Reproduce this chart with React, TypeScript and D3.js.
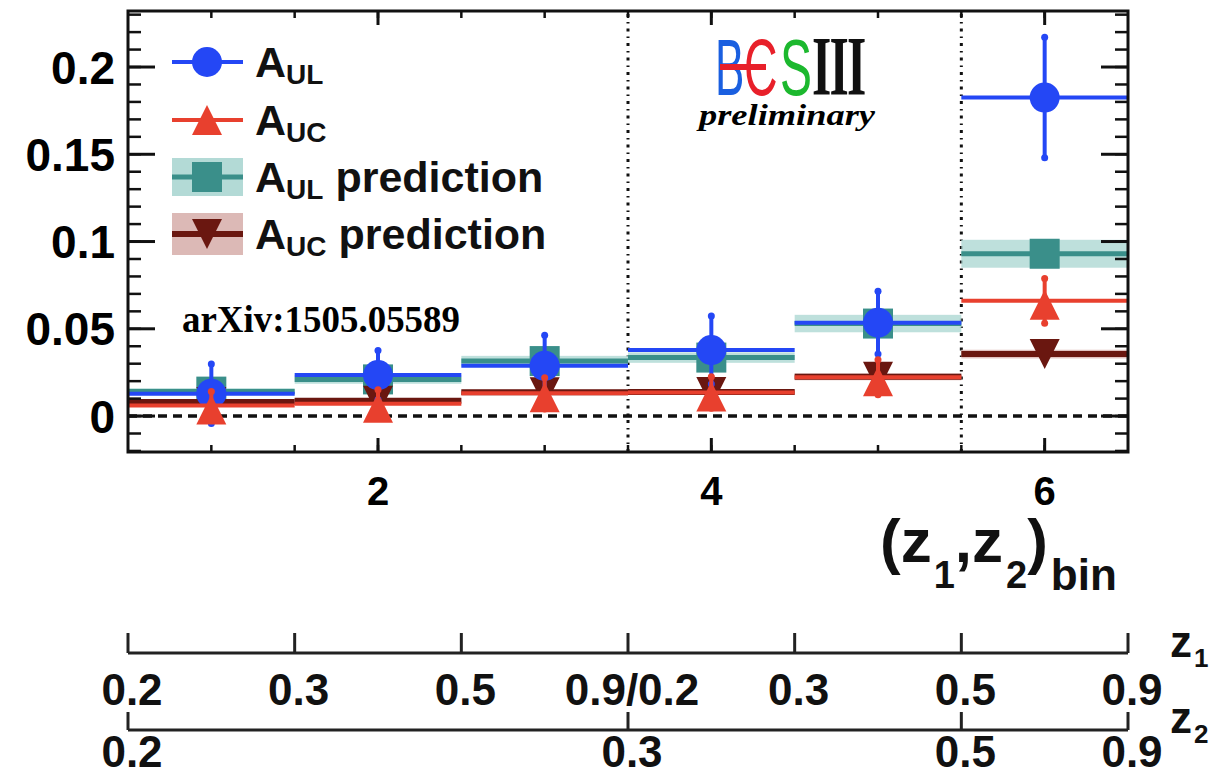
import React, { useEffect, useRef } from 'react'
import * as d3 from 'd3'

// bin centres and measured / predicted asymmetries
const bins = [1, 2, 3, 4, 5, 6]
const aUL = [0.0128, 0.0235, 0.0288, 0.0378, 0.0535, 0.1825]
const aULErr = [0.017, 0.014, 0.0175, 0.0195, 0.018, 0.0345]
const aUC = [0.006, 0.007, 0.013, 0.0135, 0.0222, 0.066]
const aUCErr = [0.008, 0.008, 0.009, 0.009, 0.01, 0.0128]
const predUL = [0.014, 0.021, 0.0315, 0.0335, 0.053, 0.093]
const predULErr = [0.002, 0.0025, 0.003, 0.003, 0.005, 0.008]
const predUC = [0.008, 0.0088, 0.0136, 0.0138, 0.0225, 0.0355]
const predUCErr = [0.0015, 0.0015, 0.0015, 0.0015, 0.002, 0.0025]

const xTicks = [2, 4, 6]
const yTicks = [0, 0.05, 0.1, 0.15, 0.2]
const yTickLabels = ['0', '0.05', '0.1', '0.15', '0.2']
const dividers = [3.5, 5.5]

const z1Edges = [0.5, 1.5, 2.5, 3.5, 4.5, 5.5, 6.5]
const z1Labels = ['0.2', '0.3', '0.5', '0.9/0.2', '0.3', '0.5', '0.9']
const z2Edges = [0.5, 3.5, 5.5, 6.5]
const z2Labels = ['0.2', '0.3', '0.5', '0.9']

const legendMain = ['A', 'A', 'A', 'A']
const legendSub = ['UL', 'UC', 'UL', 'UC']
const legendExtra = ['', '', 'prediction', 'prediction']

const BLUE = '#2447f5'
const RED = '#e8402e'
const TEAL = '#3a8f8a'
const TEAL_BAND = '#b3dad6'
const DARK = '#6a1710'
const DARK_BAND = '#dcb9b6'

const SANS = 'Liberation Sans, Arial, Helvetica, sans-serif'
const SERIF = 'Liberation Serif, Times New Roman, serif'

// ROOT-like markers, centred on their bounding box
const triUp = (s: number) => `M0,${-s / 2}L${s / 2},${s / 2}L${-s / 2},${s / 2}Z`
const triDown = (s: number) => `M0,${s / 2}L${s / 2},${-s / 2}L${-s / 2},${-s / 2}Z`

function App() {
  const ref = useRef<SVGSVGElement>(null)

  useEffect(() => {
    if (!ref.current) return
    const svg = d3.select(ref.current)
    svg.selectAll('*').remove()

    const x = d3.scaleLinear().domain([0.5, 6.5]).range([128, 1128])
    const y = d3.scaleLinear().domain([-0.0206, 0.2321]).range([452, 11])
    const [x0, x1] = x.range()
    const [y0, y1] = y.range()

    svg.append('defs').append('clipPath').attr('id', 'plot')
      .append('rect').attr('x', x0).attr('y', y1).attr('width', x1 - x0).attr('height', y0 - y1)

    const plot = svg.append('g').attr('clip-path', 'url(#plot)')

    // zero line and bin-group dividers
    plot.append('line')
      .attr('x1', x0).attr('x2', x1).attr('y1', y(0)).attr('y2', y(0))
      .attr('stroke', '#111').attr('stroke-width', 3.5).attr('stroke-dasharray', '9,6')
    plot.selectAll('.div').data(dividers).join('line')
      .attr('x1', d => x(d)).attr('x2', d => x(d)).attr('y1', y0).attr('y2', y1)
      .attr('stroke', '#111').attr('stroke-width', 3).attr('stroke-dasharray', '3,5,1.5,5')

    const lo = (b: number) => x(b - 0.5)
    const hi = (b: number) => x(b + 0.5)

    // prediction bands
    const band = (vals: number[], errs: number[], fill: string) => {
      plot.append('g').selectAll('rect').data(bins).join('rect')
        .attr('x', d => lo(d)).attr('width', d => hi(d) - lo(d))
        .attr('y', (d, i) => y(vals[i] + errs[i]))
        .attr('height', (d, i) => y(vals[i] - errs[i]) - y(vals[i] + errs[i]))
        .attr('fill', fill).attr('opacity', 0.85)
    }
    band(predUL, predULErr, TEAL_BAND)
    band(predUC, predUCErr, DARK_BAND)

    const hlines = (vals: number[], color: string, w: number) => {
      plot.append('g').selectAll('line').data(bins).join('line')
        .attr('x1', d => lo(d)).attr('x2', d => hi(d))
        .attr('y1', (d, i) => y(vals[i])).attr('y2', (d, i) => y(vals[i]))
        .attr('stroke', color).attr('stroke-width', w)
    }
    const vbars = (vals: number[], errs: number[], color: string) => {
      const g = plot.append('g')
      g.selectAll('line').data(bins).join('line')
        .attr('x1', d => x(d)).attr('x2', d => x(d))
        .attr('y1', (d, i) => y(vals[i] - errs[i])).attr('y2', (d, i) => y(vals[i] + errs[i]))
        .attr('stroke', color).attr('stroke-width', 4)
      g.selectAll('circle').data(bins.flatMap((d, i) => [[d, vals[i] - errs[i]], [d, vals[i] + errs[i]]])).join('circle')
        .attr('cx', d => x(d[0])).attr('cy', d => y(d[1])).attr('r', 3.5).attr('fill', color)
    }

    // predictions
    hlines(predUL, TEAL, 5)
    plot.append('g').selectAll('rect').data(bins).join('rect')
      .attr('x', d => x(d) - 15).attr('y', (d, i) => y(predUL[i]) - 15)
      .attr('width', 30).attr('height', 30).attr('fill', TEAL)
    hlines(predUC, DARK, 6)
    plot.append('g').selectAll('path').data(bins).join('path')
      .attr('transform', (d, i) => `translate(${x(d)},${y(predUC[i])})`)
      .attr('d', triDown(30)).attr('fill', DARK)

    // measurements
    hlines(aUL, BLUE, 4)
    vbars(aUL, aULErr, BLUE)
    plot.append('g').selectAll('circle').data(bins).join('circle')
      .attr('cx', d => x(d)).attr('cy', (d, i) => y(aUL[i])).attr('r', 15).attr('fill', BLUE)
    hlines(aUC, RED, 4)
    vbars(aUC, aUCErr, RED)
    plot.append('g').selectAll('path').data(bins).join('path')
      .attr('transform', (d, i) => `translate(${x(d)},${y(aUC[i]) + 4})`)
      .attr('d', triUp(30)).attr('fill', RED)

    // frame and ticks
    const axes = svg.append('g').attr('stroke', '#111')
    const yMinor = d3.range(-0.02, 0.2321, 0.01).filter(v => v >= -0.0206)
    axes.selectAll('.ym').data(yMinor).join('line')
      .attr('x1', x0).attr('x2', x0 + 13).attr('y1', d => y(d)).attr('y2', d => y(d)).attr('stroke-width', 2.5)
    axes.selectAll('.ymr').data(yMinor).join('line')
      .attr('x1', x1).attr('x2', x1 - 13).attr('y1', d => y(d)).attr('y2', d => y(d)).attr('stroke-width', 2.5)
    axes.selectAll('.yM').data(yTicks).join('line')
      .attr('x1', x0).attr('x2', x0 + 27).attr('y1', d => y(d)).attr('y2', d => y(d)).attr('stroke-width', 3)
    axes.selectAll('.yMr').data(yTicks).join('line')
      .attr('x1', x1).attr('x2', x1 - 27).attr('y1', d => y(d)).attr('y2', d => y(d)).attr('stroke-width', 3)
    const xMinor = d3.range(1, 6.5, 0.5)
    ;[y0, y1].forEach((yy, k) => {
      const dir = k === 0 ? -1 : 1
      axes.append('g').selectAll('line').data(xMinor).join('line')
        .attr('x1', d => x(d)).attr('x2', d => x(d)).attr('y1', yy).attr('y2', yy + dir * 7).attr('stroke-width', 2.5)
      axes.append('g').selectAll('line').data(xTicks).join('line')
        .attr('x1', d => x(d)).attr('x2', d => x(d)).attr('y1', yy).attr('y2', yy + dir * 14).attr('stroke-width', 3)
    })
    axes.append('rect').attr('x', x0).attr('y', y1).attr('width', x1 - x0).attr('height', y0 - y1)
      .attr('fill', 'none').attr('stroke-width', 3)

    // tick labels
    svg.append('g').selectAll('text').data(yTicks).join('text')
      .attr('x', 115).attr('y', d => y(d)).attr('dy', '0.36em')
      .attr('text-anchor', 'end').attr('font-family', SANS).attr('font-weight', 'bold').attr('font-size', 46)
      .text((d, i) => yTickLabels[i])
    svg.append('g').selectAll('text').data(xTicks).join('text')
      .attr('x', d => x(d)).attr('y', 505)
      .attr('text-anchor', 'middle').attr('font-family', SANS).attr('font-weight', 'bold').attr('font-size', 40)
      .text(d => String(d))

    // axis title (z1,z2)bin
    const title = svg.append('text').attr('x', 880).attr('y', 562)
      .attr('font-family', SANS).attr('font-weight', 'bold').attr('fill', '#111')
    title.append('tspan').attr('font-size', 62).text('(z')
    title.append('tspan').attr('font-size', 38).attr('dx', 2).attr('dy', 26).text('1')
    title.append('tspan').attr('font-size', 62).attr('dy', -26).text(',z')
    title.append('tspan').attr('font-size', 38).attr('dx', 3).attr('dy', 26).text('2')
    title.append('tspan').attr('font-size', 62).attr('dy', -26).text(')')
    title.append('tspan').attr('font-size', 44).attr('dx', 3).attr('dy', 28).text('bin')

    // text notes
    svg.append('text').attr('x', 182).attr('y', 332).attr('font-family', SERIF).attr('font-weight', 'bold')
      .attr('font-size', 37).attr('textLength', 278).attr('lengthAdjust', 'spacingAndGlyphs').text('arXiv:1505.05589')

    // BESIII logo
    const logo = svg.append('g').attr('font-family', SANS).attr('font-size', 80)
    logo.append('text').attr('transform', 'translate(715,95) scale(0.55,1)').attr('fill', '#1a5fe0').text('B')
    logo.append('text').attr('transform', 'translate(744,95) scale(0.58,1)').attr('fill', '#e8202a').text('C')
    logo.append('line').attr('x1', 720).attr('x2', 766).attr('y1', 67).attr('y2', 67)
      .attr('stroke', '#e8202a').attr('stroke-width', 6)
    logo.append('text').attr('transform', 'translate(780,95) scale(0.6,1)').attr('fill', '#1cb82e').text('S')
    logo.append('text').attr('transform', 'translate(812,95) scale(0.62,1.05)').attr('fill', '#111')
      .attr('font-family', SERIF).attr('font-weight', 'bold').attr('letter-spacing', -3).text('III')
    svg.append('text').attr('x', 787).attr('y', 125).attr('text-anchor', 'middle')
      .attr('font-family', SERIF).attr('font-weight', 'bold').attr('font-style', 'italic')
      .attr('font-size', 30).attr('textLength', 176).attr('lengthAdjust', 'spacingAndGlyphs').text('preliminary')

    // legend
    const rowY = [62, 120, 177, 234]
    const leg = svg.append('g')
    const lx0 = 172, lx1 = 243, lm = 207
    leg.append('rect').attr('x', lx0).attr('y', rowY[2] - 19).attr('width', lx1 - lx0).attr('height', 38).attr('fill', TEAL_BAND)
    leg.append('rect').attr('x', lx0).attr('y', rowY[3] - 21).attr('width', lx1 - lx0).attr('height', 42).attr('fill', DARK_BAND)
    const lineCol = [BLUE, RED, TEAL, DARK]
    const lineW = [4, 4, 5, 6]
    leg.selectAll('line').data(rowY).join('line')
      .attr('x1', lx0).attr('x2', lx1).attr('y1', d => d).attr('y2', d => d)
      .attr('stroke', (d, i) => lineCol[i]).attr('stroke-width', (d, i) => lineW[i])
    leg.append('circle').attr('cx', lm).attr('cy', rowY[0]).attr('r', 15).attr('fill', BLUE)
    leg.append('path').attr('transform', `translate(${lm},${rowY[1]})`).attr('d', triUp(30)).attr('fill', RED)
    leg.append('rect').attr('x', lm - 15).attr('y', rowY[2] - 15).attr('width', 30).attr('height', 30).attr('fill', TEAL)
    leg.append('path').attr('transform', `translate(${lm},${rowY[3]})`).attr('d', triDown(30)).attr('fill', DARK)
    rowY.forEach((ry, i) => {
      const t = leg.append('text').attr('x', 255).attr('y', ry + 15)
        .attr('font-family', SANS).attr('font-weight', 'bold').attr('fill', '#111')
      t.append('tspan').attr('font-size', 43).text(legendMain[i])
      t.append('tspan').attr('font-size', 28).attr('dy', 7).text(legendSub[i])
      if (legendExtra[i]) t.append('tspan').attr('font-size', 43).attr('dx', 12).attr('dy', -7).text(legendExtra[i])
    })

    // (z1, z2) bin-edge scales under the plot
    const low = svg.append('g').attr('stroke', '#222').attr('stroke-width', 3).attr('fill', 'none')
    const scaleRow = (edges: number[], labels: string[], ly: number, tickTop: number, labelY: number) => {
      low.append('line').attr('x1', x(edges[0])).attr('x2', x(edges[edges.length - 1])).attr('y1', ly).attr('y2', ly)
      low.append('g').selectAll('line').data(edges).join('line')
        .attr('x1', d => x(d)).attr('x2', d => x(d)).attr('y1', tickTop).attr('y2', ly)
      svg.append('g').selectAll('text').data(edges).join('text')
        .attr('x', d => x(d) + 4).attr('y', labelY).attr('text-anchor', 'middle')
        .attr('font-family', SANS).attr('font-weight', 'bold').attr('font-size', 44).attr('fill', '#111')
        .text((d, i) => labels[i])
    }
    scaleRow(z1Edges, z1Labels, 653, 633, 705)
    scaleRow(z2Edges, z2Labels, 730, 712, 767)
    const zl = (sub: string, by: number) => {
      const t = svg.append('text').attr('x', 1170).attr('y', by)
        .attr('font-family', SANS).attr('font-weight', 'bold').attr('fill', '#111')
      t.append('tspan').attr('font-size', 44).text('z')
      t.append('tspan').attr('font-size', 26).attr('dx', 2).attr('dy', 10).text(sub)
    }
    zl('1', 657)
    zl('2', 733)
  }, [])

  return (
    <svg ref={ref} width={1209} height={776}
      style={{ position: 'absolute', left: 0, top: 0, background: '#fff' }} />
  )
}

export default App
